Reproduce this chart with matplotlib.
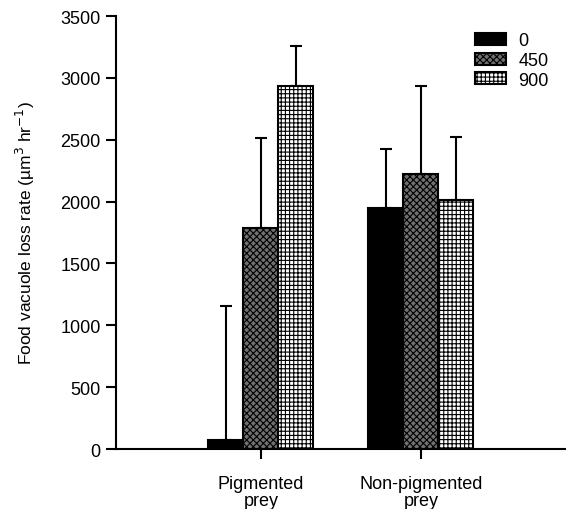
import numpy as np
import matplotlib.pyplot as plt

plt.rcParams['font.family'] = ['Liberation Sans', 'DejaVu Sans']
plt.rcParams['hatch.linewidth'] = 0.8

# Data
groups = ['Pigmented\nprey', 'Non-pigmented\nprey']
doses = ['0', '450', '900']
means_0 = [73, 1950]
means_450 = [1788, 2225]
means_900 = [2936, 2015]
err_0 = [1084, 477]
err_450 = [728, 711]
err_900 = [324, 510]

means = [means_0, means_450, means_900]
errs = [err_0, err_450, err_900]
styles = [
    dict(color='black', hatch=None),
    dict(color='#707070', hatch='xxxxx'),
    dict(color='white', hatch='++++'),
]

fig = plt.figure(figsize=(5.66, 5.10), dpi=100)
ax = fig.add_axes([0.205, 0.1176, 0.793, 0.849])

x = np.arange(len(groups))
w = 0.219
for i in range(3):
    pos = x + (i - 1) * w
    ax.bar(pos, means[i], width=w, facecolor=styles[i]['color'],
           edgecolor='black', linewidth=1.5, hatch=styles[i]['hatch'],
           label=doses[i], zorder=3)
    ax.errorbar(pos, means[i], yerr=[np.zeros(len(groups)), errs[i]],
                fmt='none', ecolor='black', elinewidth=1.5, capsize=4.5,
                capthick=1.5, zorder=2)

ax.set_xlim(-0.906, 1.9)
ax.set_ylim(0, 3500)
ax.set_yticks(np.arange(0, 3501, 500))
ax.set_xticks(x)
ax.set_xticklabels(groups, fontsize=13, linespacing=1.0)
ax.tick_params(axis='y', labelsize=13, length=7, width=1.5, direction='out', pad=4)
ax.tick_params(axis='x', length=7, width=1.5, direction='out', pad=12)

for s in ['top', 'right']:
    ax.spines[s].set_visible(False)
for s in ['left', 'bottom']:
    ax.spines[s].set_linewidth(1.5)

ax.set_ylabel('Food vacuole loss rate (µm$^3$ hr$^{-1}$)', fontsize=12.5, labelpad=17)

ax.legend(loc='upper right', bbox_to_anchor=(1.0, 1.0), frameon=False,
          fontsize=13, handlelength=1.7, handleheight=0.65, labelspacing=0.15,
          handletextpad=0.7)

fig.savefig('out.png', dpi=100)
